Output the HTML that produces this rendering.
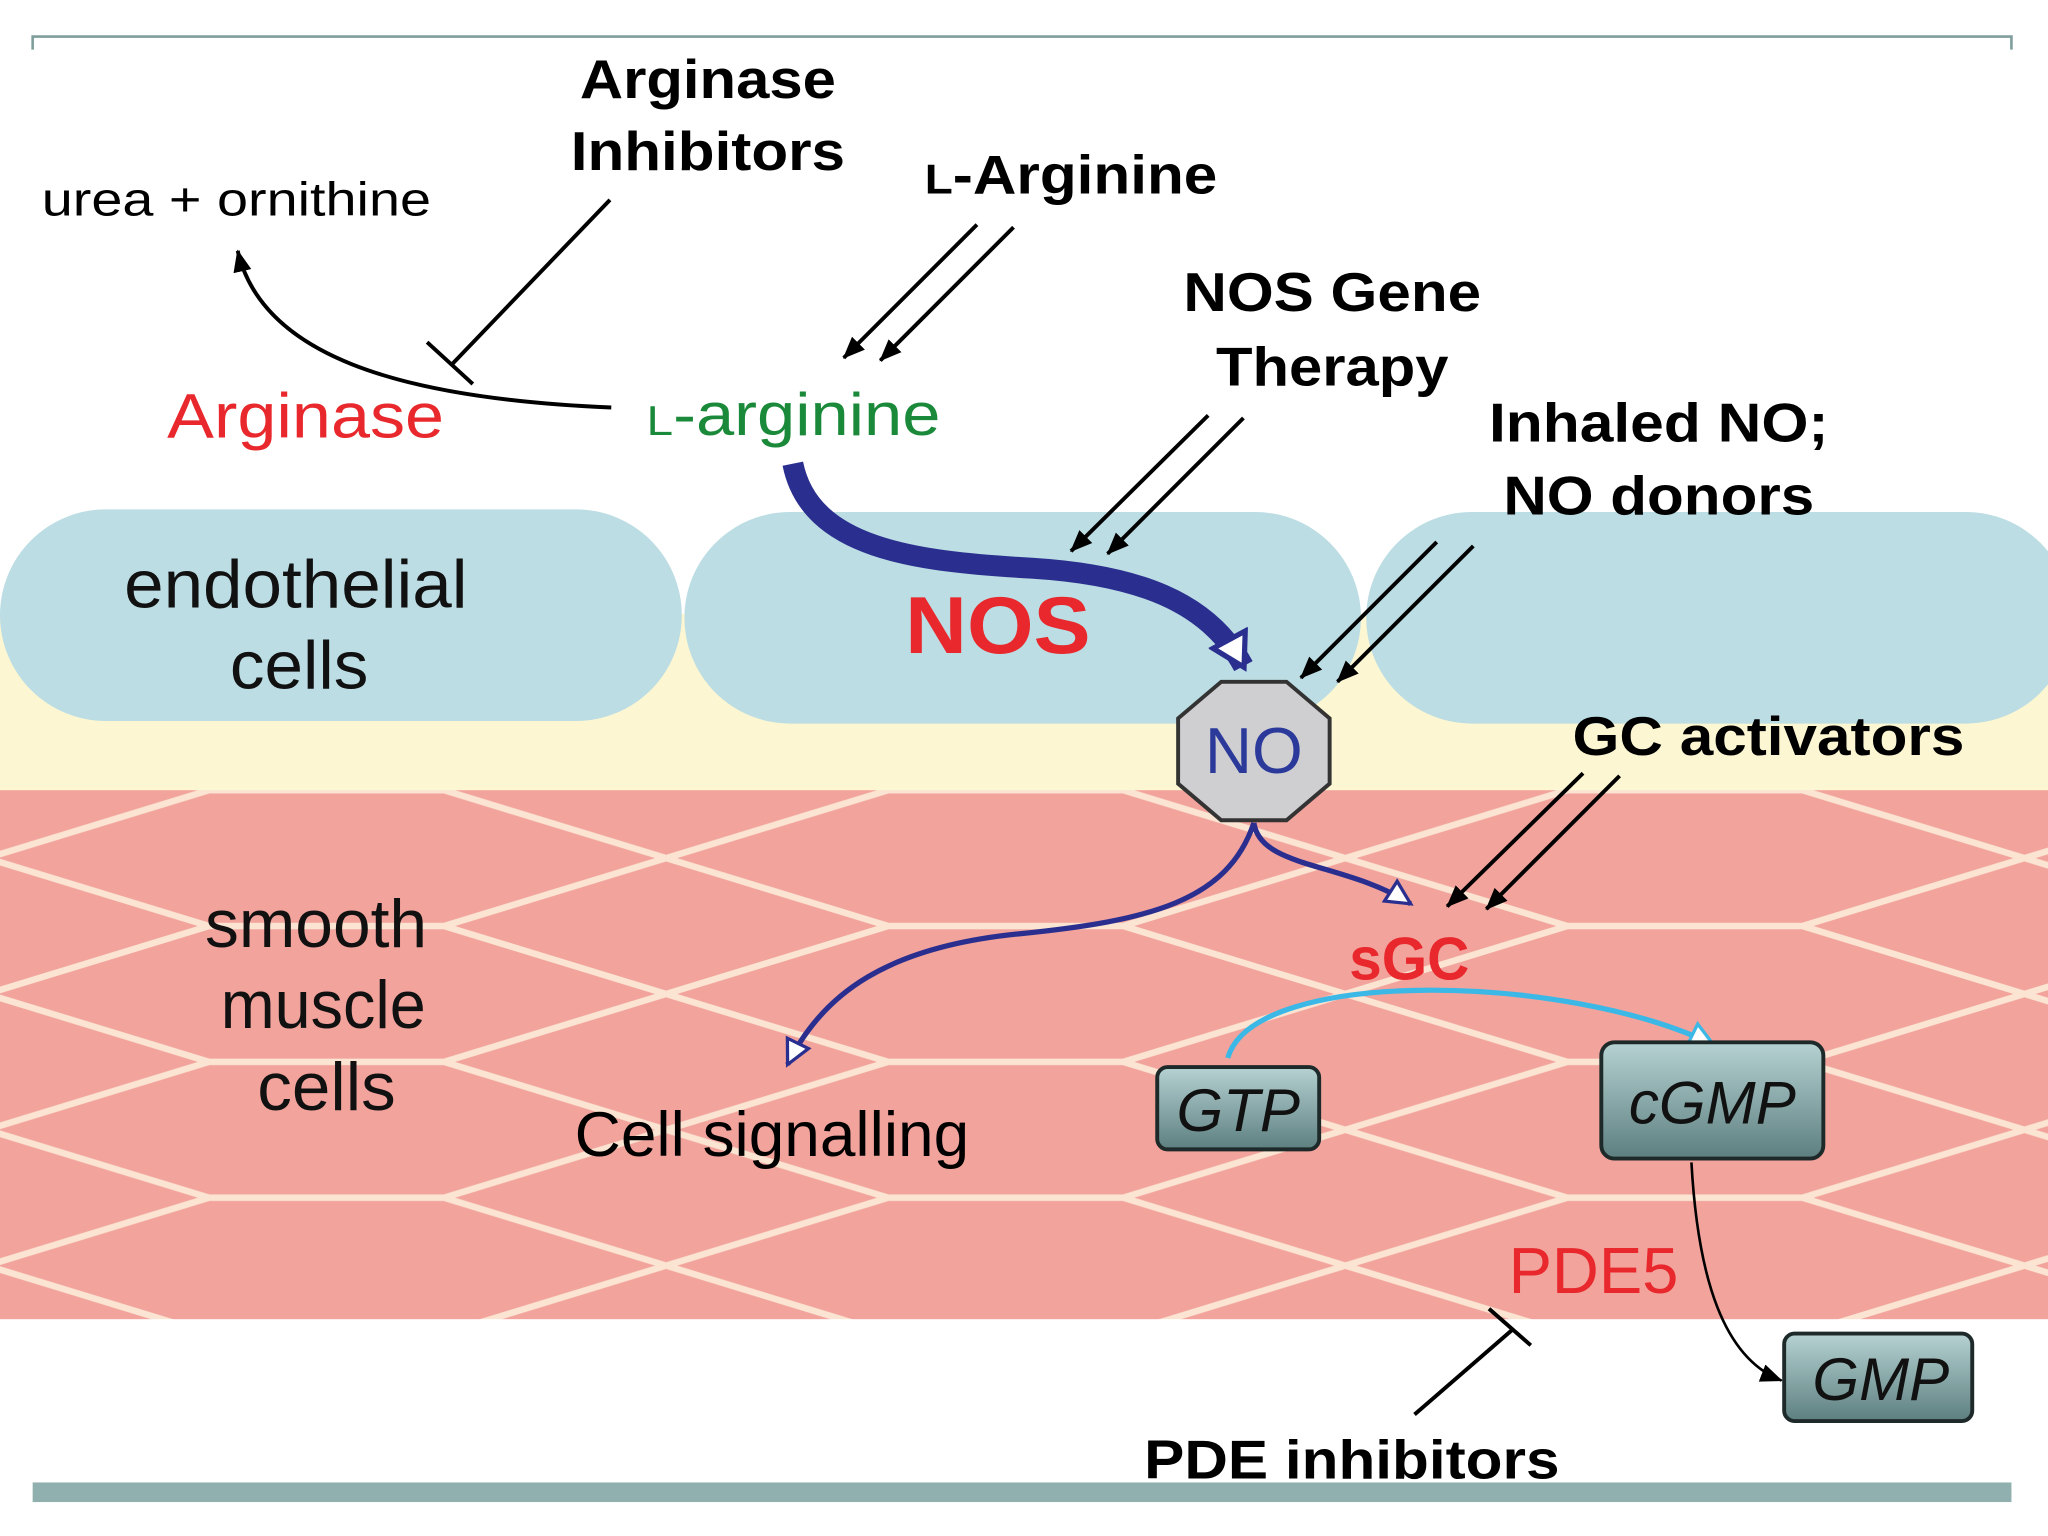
<!DOCTYPE html>
<html><head><meta charset="utf-8"><style>html,body{margin:0;padding:0;background:#fff}svg{display:block}</style></head>
<body>
<svg width="2048" height="1536" viewBox="0 0 1568 1176" preserveAspectRatio="none" xmlns="http://www.w3.org/2000/svg" font-family="Liberation Sans, sans-serif">
<defs>
<pattern id="hex" patternUnits="userSpaceOnUse" x="-10" y="605" width="520" height="104">
<rect width="520" height="104" fill="#f2a39c"/>
<path d="M0,52 L170,0 L350,0 L520,52 L350,104 L170,104 Z M170,0 L0,-52 M350,0 L520,-52" fill="none" stroke="#fbe4d2" stroke-width="5"/>
</pattern>
<linearGradient id="bx" x1="0" y1="0" x2="0" y2="1"><stop offset="0" stop-color="#b6d2d2"/><stop offset="1" stop-color="#5d7f80"/></linearGradient>
<marker id="ah" markerWidth="18" markerHeight="18" refX="16" refY="9" orient="auto" markerUnits="userSpaceOnUse"><path d="M0,2 L17,9 L0,16 Z" fill="#000"/></marker>
<marker id="ahb" markerWidth="24" markerHeight="24" refX="20" refY="12" orient="auto" markerUnits="userSpaceOnUse"><path d="M2,3 L20,12 L2,21 Z" fill="#fff" stroke="#2a2f8f" stroke-width="2.5"/></marker>
<marker id="ahc" markerWidth="24" markerHeight="24" refX="20" refY="12" orient="auto" markerUnits="userSpaceOnUse"><path d="M2,3 L20,12 L2,21 Z" fill="#fff" stroke="#3cb8e6" stroke-width="2.5"/></marker>
<marker id="ahB" markerWidth="34" markerHeight="34" refX="26" refY="17" orient="auto" markerUnits="userSpaceOnUse"><path d="M3,3 L27,17 L3,31 Z" fill="#fff" stroke="#2a2f8f" stroke-width="4"/></marker>
</defs>
<rect width="1568" height="1176" fill="#fff"/>
<rect x="0" y="470" width="1568" height="150" fill="#fcf7d2"/>
<rect x="0" y="605" width="1568" height="405" fill="url(#hex)"/>
<g fill="#bcdde3">
<rect x="0" y="390" width="522" height="162" rx="81"/>
<rect x="524" y="392" width="518" height="162" rx="81"/>
<rect x="1046" y="392" width="540" height="162" rx="81"/>
</g>
<path d="M25,38 L25,28 L1540,28 L1540,38" fill="none" stroke="#7f9f9c" stroke-width="2"/>
<rect x="25" y="1135" width="1515" height="15" fill="#8fb0ae"/>

<g font-weight="bold" font-size="42" fill="#000" text-anchor="middle">
<text x="542" y="75" textLength="196" lengthAdjust="spacingAndGlyphs">Arginase</text><text x="542" y="130" textLength="210" lengthAdjust="spacingAndGlyphs">Inhibitors</text>
<text x="820" y="148" textLength="224" lengthAdjust="spacingAndGlyphs"><tspan font-size="32">L</tspan>-Arginine</text>
<text x="1020" y="238" textLength="228" lengthAdjust="spacingAndGlyphs">NOS Gene</text><text x="1020" y="295" textLength="178" lengthAdjust="spacingAndGlyphs">Therapy</text>
<text x="1270" y="338" textLength="260" lengthAdjust="spacingAndGlyphs">Inhaled NO;</text><text x="1270" y="394" textLength="238" lengthAdjust="spacingAndGlyphs">NO donors</text>
<text x="1354" y="578" textLength="300" lengthAdjust="spacingAndGlyphs">GC activators</text>
<text x="1035" y="1132" textLength="318" lengthAdjust="spacingAndGlyphs">PDE inhibitors</text>
</g>
<text x="32" y="165" font-size="36" textLength="298" lengthAdjust="spacingAndGlyphs">urea + ornithine</text>
<text x="128" y="335" font-size="48" fill="#e8282c" textLength="212" lengthAdjust="spacingAndGlyphs">Arginase</text>
<text x="495" y="333" font-size="46" fill="#1a8a3a" textLength="225" lengthAdjust="spacingAndGlyphs"><tspan font-size="32">L</tspan>-arginine</text>
<g font-size="52" fill="#111">
<text x="95" y="465" textLength="263" lengthAdjust="spacingAndGlyphs">endothelial</text><text x="176" y="527" textLength="106" lengthAdjust="spacingAndGlyphs">cells</text>
<text x="157" y="725" textLength="170" lengthAdjust="spacingAndGlyphs">smooth</text><text x="169" y="787" textLength="157" lengthAdjust="spacingAndGlyphs">muscle</text><text x="197" y="850" textLength="106" lengthAdjust="spacingAndGlyphs">cells</text>
</g>
<text x="693" y="500" font-size="62" font-weight="bold" fill="#e8282c" textLength="142" lengthAdjust="spacingAndGlyphs">NOS</text>
<text x="440" y="885" font-size="48" textLength="302" lengthAdjust="spacingAndGlyphs">Cell signalling</text>
<text x="1033" y="750" font-size="46" font-weight="bold" fill="#e8282c" textLength="92" lengthAdjust="spacingAndGlyphs">sGC</text>
<text x="1155" y="990" font-size="50" fill="#e8282c" textLength="130" lengthAdjust="spacingAndGlyphs">PDE5</text>

<g stroke="#000" stroke-width="3" fill="none">
<path d="M468,312 C300,305 200,270 182,192" marker-end="url(#ah)"/>
<path d="M467,153 L345,280 M327,262 L362,294"/>
<path d="M748,172 L646,274" marker-end="url(#ah)"/>
<path d="M776,174 L674,276" marker-end="url(#ah)"/>
<path d="M925,318 L820,422" marker-end="url(#ah)"/>
<path d="M952,320 L848,424" marker-end="url(#ah)"/>
<path d="M1100,415 L996,519" marker-end="url(#ah)"/>
<path d="M1128,418 L1024,522" marker-end="url(#ah)"/>
<path d="M1212,592 L1108,694" marker-end="url(#ah)"/>
<path d="M1240,594 L1138,696" marker-end="url(#ah)"/>
<path d="M1083,1083 L1158,1018 M1140,1002 L1172,1030"/>
<path d="M1295,890 C1300,980 1320,1040 1364,1057" stroke-width="2" marker-end="url(#ah)"/>
</g>

<path d="M607,355 C620,420 700,430 790,435 C870,440 925,460 952,510" fill="none" stroke="#2a2f8f" stroke-width="16" marker-end="url(#ahB)"/>
<path d="M960,630 C965,665 1030,660 1080,692" fill="none" stroke="#2a2f8f" stroke-width="4" marker-end="url(#ahb)"/>
<path d="M960,630 C940,690 880,705 780,715 C680,725 630,760 603,815" fill="none" stroke="#2a2f8f" stroke-width="4" marker-end="url(#ahb)"/>
<path d="M940,810 C960,740 1200,745 1312,800" fill="none" stroke="#3cb8e6" stroke-width="4" marker-end="url(#ahc)"/>

<polygon points="935,522 985,522 1018,550 1018,600 985,628 935,628 902,600 902,550" fill="#cfcfd2" stroke="#333" stroke-width="3"/>
<text x="960" y="592" font-size="50" text-anchor="middle" fill="#2b3a9a">NO</text>

<g stroke="#1e2a2a" stroke-width="3" fill="url(#bx)">
<rect x="886" y="817" width="124" height="63" rx="8"/>
<rect x="1226" y="798" width="170" height="89" rx="10"/>
<rect x="1366" y="1021" width="144" height="67" rx="8"/>
</g>
<g font-size="46" font-style="italic" fill="#111" text-anchor="middle">
<text x="948" y="866">GTP</text>
<text x="1311" y="860">cGMP</text>
<text x="1440" y="1072">GMP</text>
</g>
</svg>
</body></html>
